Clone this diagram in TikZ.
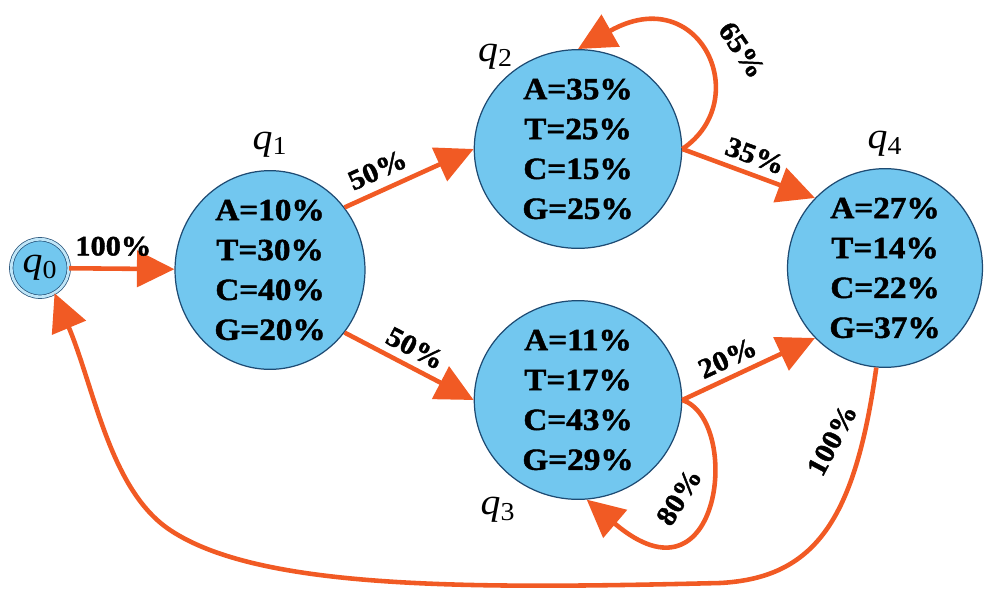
\documentclass[tikz,border=0pt]{standalone}
\usepackage{fontspec}
\setmainfont{Liberation Serif}[FakeStretch=1.08, BoldFeatures={FakeBold=1.5}]
\usepackage{xcolor}
\definecolor{bubble}{HTML}{72C7EF}
\definecolor{rim}{HTML}{1E4B73}
\definecolor{flow}{HTML}{F15A24}
\usepackage{tikz}
\usetikzlibrary{arrows.meta, shapes.geometric, positioning}

\begin{document}
\begin{tikzpicture}[x=0.02cm, y=-0.02cm,
    >={Triangle[length=0.75cm, width=0.72cm]},
    state/.style={ellipse, draw=rim, fill=bubble, line width=0.7pt,
                  inner sep=0pt, align=center,
                  font=\fontsize{17.5}{22.7}\selectfont\bfseries},
    edge/.style={->, draw=flow, line width=2.6pt},
    prob/.style={font=\fontsize{16}{18}\selectfont\bfseries, inner sep=2pt},
    qname/.style={font=\fontsize{21}{23}\selectfont, inner sep=0pt}]

  \useasboundingbox (0,0) rectangle (985,592);

  % states
  \node[circle, draw=rim, double=bubble!45, double distance=1.6pt,
        fill=bubble, minimum size=1.15cm, inner sep=0pt,
        font=\fontsize{21}{23}\selectfont] (q0) at (40,268)
        {\textit{q}\textsubscript{0}};

  \node[state, minimum width=3.8cm, minimum height=3.55cm] (q1) at (270,270)
        {A=10\%\\T=30\%\\C=40\%\\G=20\%};
  \node[state, minimum width=4.15cm, minimum height=3.85cm] (q2) at (578,149)
        {A=35\%\\T=25\%\\C=15\%\\G=25\%};
  \node[state, minimum width=4.15cm, minimum height=3.9cm] (q3) at (578,400)
        {A=11\%\\T=17\%\\C=43\%\\G=29\%};
  \node[state, minimum width=3.9cm, minimum height=3.7cm] (q4) at (885,268)
        {A=27\%\\T=14\%\\C=22\%\\G=37\%};

  \node[qname, above=0.25cm of q1] (n1) {\textit{q}\textsubscript{1}};
  \node[qname, above left=0.15cm and -0.15cm of q2.135] (n2) {\textit{q}\textsubscript{2}};
  \node[qname, below left=0.5cm and -0.2cm of q3.225] (n3) {\textit{q}\textsubscript{3}};
  \node[qname, above=0.22cm of q4] (n4) {\textit{q}\textsubscript{4}};

  % transitions
  \draw[edge] (q0) -- (q1) node[prob, pos=0.42, above=4pt] {100\%};
  \draw[edge] (q1.40) -- (q2.west) node[prob, pos=0.32, above=3pt, sloped] {50\%};
  \draw[edge] (q1.-40) -- (q3.west) node[prob, pos=0.48, above=2pt, sloped] {50\%};
  \draw[edge] (q2.east) -- (q4.135) node[prob, pos=0.5, above=2pt, sloped] {35\%};
  \draw[edge] (q3.east) -- (q4.225) node[prob, pos=0.4, above=2pt, sloped] {20\%};

  \draw[edge] (q2.east) .. controls (755,100) and (700,-20) .. (q2.north);
  \node[prob, rotate=-56] (l65) at (742,50) {65\%};

  \draw[edge] (q3.east) .. controls (742,420) and (722,615) .. (q3.-85);
  \node[prob, rotate=58] (l80) at (679,497) {80\%};

  \draw[edge] (q4.265) .. controls (855,520) and (815,578) .. (720,583)
    .. controls (470,589) and (260,590) .. (170,530)
    .. controls (110,490) and (95,390) .. (q0.300);
  \node[prob, rotate=62] (l100) at (832,440) {100\%};

\end{tikzpicture}
\end{document}
